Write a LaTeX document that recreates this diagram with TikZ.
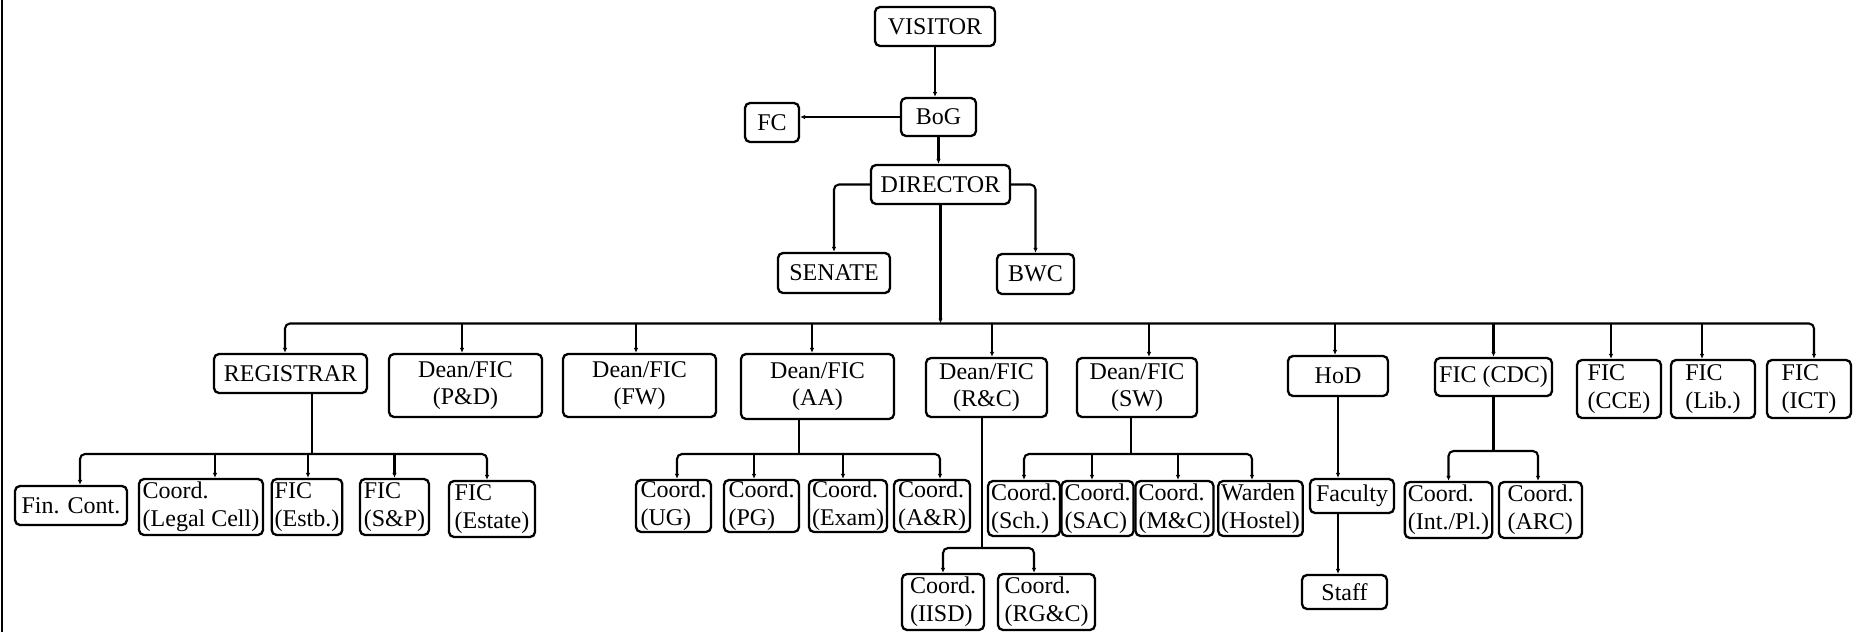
\documentclass[tikz,border=0pt]{standalone}
\usepackage{fontspec}
\setmainfont{Liberation Serif}
\usetikzlibrary{arrows.meta,calc}
\begin{document}
\begin{tikzpicture}[x=1pt,y=-1pt,
  box/.style={draw, line width=2.3pt, rounded corners=5pt, inner xsep=3pt, inner ysep=0pt,
    font=\fontsize{24}{27}\selectfont, align=center},
  lb/.style={box, align=left, font=\fontsize{24}{28}\selectfont},
  conn/.style={line width=2.1pt, rounded corners=5pt},
  tip/.style={conn, -{Latex[length=5pt,width=4.5pt]}},
  tips/.style={conn, {Latex[length=5pt,width=4.5pt]}-{Latex[length=5pt,width=4.5pt]}},
]
\useasboundingbox (0,0) rectangle (1860,632);
\fill[white] (0,0) rectangle (1860,632);
\draw[line width=2pt] (1.5,0) -- (1.5,632);

% ---- top
\node[box, minimum width=120pt, minimum height=39pt] (vis) at (935,26.5) {VISITOR};
\node[box, minimum width=75pt, minimum height=38pt] (bog) at (938.5,117) {BoG};
\node[box, minimum width=54pt, minimum height=39pt] (fc) at (772,122.5) {FC};
\node[box, minimum width=139pt, minimum height=39pt] (dir) at (940.5,184.5) {DIRECTOR};
\node[box, minimum width=112pt, minimum height=40pt] (sen) at (834,273) {SENATE};
\node[box, minimum width=77pt, minimum height=40pt] (bwc) at (1035.5,274) {BWC};

% ---- level 2
\node[box, minimum width=153pt, minimum height=39pt] (reg) at (290.5,373.5) {REGISTRAR};
\node[box, minimum width=153pt, minimum height=63pt] (pd) at (465.5,385.5) {Dean/FIC\\(P\&D)};
\node[box, minimum width=153pt, minimum height=63pt] (fw) at (639.5,385.5) {Dean/FIC\\(FW)};
\node[box, minimum width=153pt, minimum height=65pt] (aa) at (817.5,386.5) {Dean/FIC\\(AA)};
\node[box, minimum width=121pt, minimum height=59pt] (rc) at (986.5,387.5) {Dean/FIC\\(R\&C)};
\node[box, minimum width=120pt, minimum height=59pt] (sw) at (1137,387.5) {Dean/FIC\\(SW)};
\node[box, minimum width=100pt, minimum height=40pt] (hod) at (1338,376) {HoD};
\node[box, minimum width=117pt, minimum height=38pt] (cdc) at (1493.5,377) {FIC (CDC)};
\node[lb, minimum width=84pt, minimum height=58pt] (cce) at (1619,389) {FIC\\(CCE)};
\node[lb, minimum width=84pt, minimum height=58pt] (lib) at (1713,389) {FIC\\(Lib.)};
\node[lb, minimum width=84pt, minimum height=58pt] (ict) at (1809,389) {FIC\\(ICT)};

% ---- level 3
\node[box, minimum width=112pt, minimum height=39pt] (fin) at (71,505.5) {Fin. Cont.};
\node[lb, minimum width=124pt, minimum height=56pt] (legal) at (201,507) {Coord.\\(Legal Cell)};
\node[lb, minimum width=68pt, minimum height=56pt] (estb) at (307,507) {FIC\\(Estb.)};
\node[lb, minimum width=69pt, minimum height=56pt] (sp) at (394.5,507) {FIC\\(S\&P)};
\node[lb, minimum width=86pt, minimum height=56pt] (estate) at (492,509) {FIC\\(Estate)};
\node[lb, minimum width=75pt, minimum height=52pt] (ug) at (673.5,506) {Coord.\\(UG)};
\node[lb, minimum width=75pt, minimum height=52pt] (pg) at (761.5,506) {Coord.\\(PG)};
\node[lb, minimum width=76pt, minimum height=52pt] (exam) at (848,506) {Coord.\\(Exam)};
\node[lb, minimum width=76pt, minimum height=52pt] (ar) at (932,506) {Coord.\\(A\&R)};
\node[lb, minimum width=68pt, minimum height=55pt] (sch) at (1024,508.5) {Coord.\\(Sch.)};
\node[lb, minimum width=67pt, minimum height=55pt] (sac) at (1097.5,508.5) {Coord.\\(SAC)};
\node[lb, minimum width=75pt, minimum height=55pt] (mc) at (1174.5,508.5) {Coord.\\(M\&C)};
\node[lb, minimum width=83pt, minimum height=55pt] (war) at (1260.5,508.5) {Warden\\(Hostel)};
\node[box, minimum width=84pt, minimum height=34pt] (fac) at (1352,496) {Faculty};
\node[lb, minimum width=83pt, minimum height=56pt] (intpl) at (1448.5,510) {Coord.\\(Int./Pl.)};
\node[lb, minimum width=83pt, minimum height=56pt] (arc) at (1540.5,510) {Coord.\\(ARC)};

% ---- level 4
\node[lb, minimum width=82pt, minimum height=56pt] (iisd) at (943,602) {Coord.\\(IISD)};
\node[lb, minimum width=97pt, minimum height=56pt] (rgc) at (1046.5,602) {Coord.\\(RG\&C)};
\node[box, minimum width=85pt, minimum height=34pt] (staff) at (1344.5,592) {Staff};

% ---- top connectors
\draw[tip] (vis.south) -- (vis.south |- bog.north);
\draw[tip] (bog.west) -- (bog.west -| fc.east);
\draw[tip] (bog.south) -- (bog.south |- dir.north);
\draw[tip] (dir.west) -| (sen.north);
\draw[tip] (dir.east) -| (bwc.north);

% ---- main bus
\coordinate (mb) at (0,323.5);
\draw[tip] (dir.south) -- (dir.south |- mb);
\coordinate (reg-t) at ($(reg.north)+(-5.5,0)$);
\coordinate (pd-t) at ($(pd.north)+(-3.5,0)$);
\coordinate (fw-t) at ($(fw.north)+(-3.5,0)$);
\coordinate (aa-t) at ($(aa.north)+(-5.5,0)$);
\coordinate (rc-t) at ($(rc.north)+(5.5,0)$);
\coordinate (sw-t) at ($(sw.north)+(12,0)$);
\coordinate (hod-t) at ($(hod.north)+(-3,0)$);
\coordinate (cdc-t) at (cdc.north);
\coordinate (cce-t) at ($(cce.north)+(-8,0)$);
\coordinate (lib-t) at ($(lib.north)+(-11,0)$);
\coordinate (ict-t) at ($(ict.north)+(5,0)$);
\draw[tips] (reg-t) |- (ict-t |- mb) -- (ict-t);
\foreach \n in {pd,fw,aa,rc,sw,hod,cdc,cce,lib}
  \draw[tip] (\n-t |- mb) -- (\n-t);

% ---- registrar group
\coordinate (rb) at (0,454);
\coordinate (reg-b) at ($(reg.south)+(21.5,0)$);
\draw[conn] (reg-b) -- (reg-b |- rb);
\coordinate (fin-t) at ($(fin.north)+(9,0)$);
\coordinate (legal-t) at ($(legal.north)+(14,0)$);
\coordinate (estb-t) at ($(estb.north)+(1,0)$);
\coordinate (sp-t) at (sp.north);
\coordinate (estate-t) at ($(estate.north)+(-5,0)$);
\draw[tips] (fin-t) |- (estate-t |- rb) -- (estate-t);
\foreach \n in {legal,estb,sp}
  \draw[tip] (\n-t |- rb) -- (\n-t);

% ---- AA group
\coordinate (ab) at (0,454);
\coordinate (aa-b) at ($(aa.south)+(-18.5,0)$);
\draw[conn] (aa-b) -- (aa-b |- ab);
\coordinate (ug-t) at ($(ug.north)+(3.5,0)$);
\coordinate (pg-t) at ($(pg.north)+(-7.5,0)$);
\coordinate (exam-t) at ($(exam.north)+(-5,0)$);
\coordinate (ar-t) at ($(ar.north)+(8,0)$);
\draw[tips] (ug-t) |- (ar-t |- ab) -- (ar-t);
\foreach \n in {pg,exam}
  \draw[tip] (\n-t |- ab) -- (\n-t);

% ---- R&C group
\coordinate (cb) at (0,548);
\coordinate (rc-b) at ($(rc.south)+(-4.5,0)$);
\draw[conn] (rc-b) -- (rc-b |- cb);
\coordinate (iisd-t) at (iisd.north);
\coordinate (rgc-t) at ($(rgc.north)+(-12.5,0)$);
\draw[tips] (iisd-t) |- (rgc-t |- cb) -- (rgc-t);

% ---- SW group
\coordinate (sb) at (0,454);
\coordinate (sw-b) at ($(sw.south)+(-6,0)$);
\draw[conn] (sw-b) -- (sw-b |- sb);
\coordinate (sch-t) at (sch.north);
\coordinate (sac-t) at ($(sac.north)+(-5.5,0)$);
\coordinate (mc-t) at ($(mc.north)+(3.5,0)$);
\coordinate (war-t) at ($(war.north)+(-8.5,0)$);
\draw[tips] (sch-t) |- (war-t |- sb) -- (war-t);
\foreach \n in {sac,mc}
  \draw[tip] (\n-t |- sb) -- (\n-t);

% ---- HoD group
\draw[tip] (hod.south) -- (hod.south |- fac.north);
\draw[tip] (fac.south -| hod.south) -- (hod.south |- staff.north);

% ---- CDC group
\coordinate (db) at (0,451);
\draw[conn] (cdc.south) -- (cdc.south |- db);
\coordinate (intpl-t) at (intpl.north);
\coordinate (arc-t) at ($(arc.north)+(-2.5,0)$);
\draw[tips] (intpl-t) |- (arc-t |- db) -- (arc-t);
\end{tikzpicture}
\end{document}
